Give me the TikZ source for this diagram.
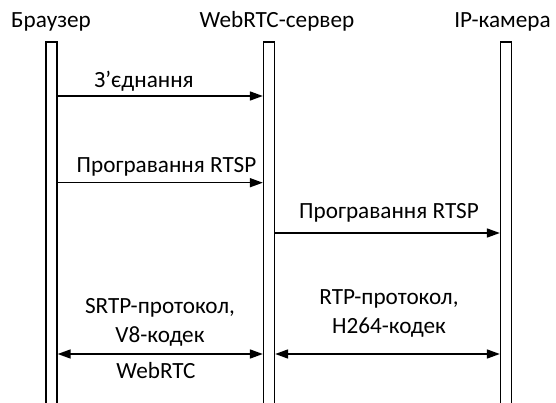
\documentclass[tikz,border=0pt]{standalone}
\usepackage{fontspec}
\setmainfont{Carlito}
\usetikzlibrary{arrows.meta}
\begin{document}
\begin{tikzpicture}[x=1pt,y=-1pt,
  bar/.style={draw,line width=1.3pt,minimum width=11pt,minimum height=380pt,inner sep=0pt},
  msg/.style={line width=1.6pt,-{Triangle[length=13pt,width=9pt]}},
  bimsg/.style={line width=1.6pt,{Triangle[length=13pt,width=9pt]}-{Triangle[length=13pt,width=9pt]}},
  lbl/.style={font=\fontsize{23.2}{28.7}\selectfont,inner sep=0pt,align=center,anchor=base},
]
\useasboundingbox (0,0) rectangle (556,403);
\node[bar] (b1) at (51.5,232) {};
\node[bar] (b2) at (269,232) {};
\node[bar] (b3) at (506,232) {};
\node[lbl] (h1) at (51,27.5) {Браузер};
\node[lbl] (h2) at (277,27.5) {WebRTC-сервер};
\node[lbl] (h3) at (502.5,27.5) {IP-камера};
\coordinate (y1) at (0,96);
\coordinate (y2) at (0,182.7);
\coordinate (y3) at (0,233);
\coordinate (y4) at (0,354);
\draw[msg] (b1.east |- y1) -- (b2.west |- y1);
\draw[msg] (b1.east |- y2) -- (b2.west |- y2);
\draw[msg] (b2.east |- y3) -- (b3.west |- y3);
\draw[bimsg] (b1.east |- y4) -- (b2.west |- y4);
\draw[bimsg] (b2.east |- y4) -- (b3.west |- y4);
\node[lbl] (l1) at (144,87.5) {З’єднання};
\node[lbl] (l2) at (166.5,172.5) {Програвання RTSP};
\node[lbl] (l3) at (389,218.5) {Програвання RTSP};
\node[lbl] (l4) at (160,342) {SRTP-протокол,\\V8-кодек};
\node[lbl] (l5) at (389,333.5) {RTP-протокол,\\H264-кодек};
\node[lbl] (l6) at (156,378) {WebRTC};
\end{tikzpicture}
\end{document}
